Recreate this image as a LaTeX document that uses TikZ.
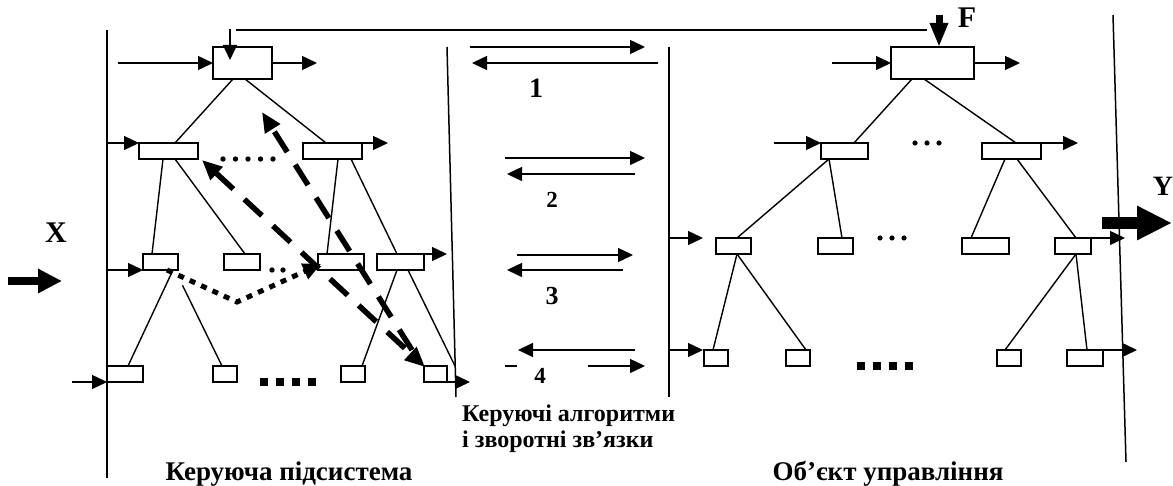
\documentclass[tikz,border=0pt]{standalone}
\usepackage{fontspec}
\setmainfont{Liberation Serif}
\usetikzlibrary{arrows.meta,calc}
\newcommand\mkbox[5]{\node[bx,minimum width={(#4-#2)*1pt},minimum height={(#5-#3)*1pt}] (#1) at ({(#2+#4)/2},{(#3+#5)/2}) {};}
\begin{document}
\begin{tikzpicture}[x=1pt,y=-1pt,
  ln/.style={line width=1.4pt},
  vline/.style={line width=1.5pt},
  bx/.style={draw,line width=1.4pt,inner sep=0pt,outer sep=0pt},
  arr/.style={line width=1.4pt,-{Triangle[length=15pt,width=14pt]}},
  fatarr/.style={line width=8pt,-{Triangle[length=24pt,width=23pt]}},
  yarr/.style={line width=12pt,-{Triangle[length=35pt,width=32pt]}},
  farr/.style={line width=7pt,-{Triangle[length=24pt,width=17pt]}},
  dasharr/.style={line width=5.5pt,dash pattern=on 24pt off 15pt},
  sqdots/.style={line width=5pt,dash pattern=on 6pt off 6.5pt},
  dtip/.style={Triangle[length=20pt,width=17pt]},
  lbl/.style={font=\bfseries\fontsize{#1}{#1}\selectfont,inner sep=0pt}]
\useasboundingbox (0,0) rectangle (1173,486);

% vertical borders
\coordinate (v1t) at (107,30);  \coordinate (v1b) at (107,478);
\coordinate (v2t) at (447,47);  \coordinate (v2b) at (456,397);
\coordinate (v3t) at (669,47);  \coordinate (v3b) at (669,397);
\coordinate (v4t) at (1113,15); \coordinate (v4b) at (1126,462);
\draw[vline] (v1t) -- (v1b);
\draw[vline] (v2t) -- (v2b);
\draw[vline] (v3t) -- (v3b);
\draw[vline] (v4t) -- (v4b);

% left hierarchy boxes
\mkbox{T1}{213}{47}{272}{79}
\mkbox{L2a}{139}{143}{198}{159}
\mkbox{L2b}{303}{143}{362}{159}
\mkbox{L3a}{143}{254}{178}{270}
\mkbox{L3b}{224}{254}{260}{270}
\mkbox{L3c}{318}{254}{364}{270}
\mkbox{L3d}{377}{254}{424}{270}
\mkbox{L4a}{107}{366}{143}{382}
\mkbox{L4b}{213}{366}{237}{382}
\mkbox{L4c}{341}{366}{365}{382}
\mkbox{L4d}{424}{366}{447}{382}

% right hierarchy boxes
\mkbox{R1}{891}{47}{974}{79}
\mkbox{R2a}{821}{143}{868}{159}
\mkbox{R2b}{982}{143}{1041}{159}
\mkbox{R3a}{716}{238}{751}{254}
\mkbox{R3b}{818}{238}{853}{254}
\mkbox{R3c}{962}{238}{1009}{254}
\mkbox{R3d}{1055}{238}{1091}{254}
\mkbox{R4a}{704}{350}{728}{366}
\mkbox{R4b}{786}{350}{810}{366}
\mkbox{R4c}{997}{350}{1021}{366}
\mkbox{R4d}{1067}{350}{1103}{366}

% left tree lines
\draw[ln] ([xshift=20pt]T1.south west) -- ([xshift=36pt]L2a.north west);
\draw[ln] ([xshift=32pt]T1.south west) -- ([xshift=23pt]L2b.north west);
\draw[ln] ([xshift=24pt]L2a.south west) -- ([xshift=9pt]L3a.north west);
\draw[ln] ([xshift=36pt]L2a.south west) -- ([xshift=21pt]L3b.north west);
\draw[ln] ([xshift=35pt]L2b.south west) -- ([xshift=9pt]L3c.north west);
\draw[ln] ([xshift=48pt]L2b.south west) -- ([xshift=20pt]L3d.north west);
\draw[ln] ([xshift=30pt]L3a.south west) -- ([xshift=21pt]L4a.north west);
\draw[ln,shorten <=17pt] ([xshift=32pt]L3a.south west) -- ([xshift=9pt]L4b.north west);
\draw[ln] ([xshift=20pt]L3d.south west) -- ([xshift=21pt]L4c.north west);
\draw[ln] ([xshift=31pt]L3d.south west) -- ([xshift=8pt]L4d.north east);

% right tree lines
\draw[ln] ([xshift=21pt]R1.south west) -- ([xshift=33pt]R2a.north west);
\draw[ln] ([xshift=33pt]R1.south west) -- ([xshift=34pt]R2b.north west);
\draw[ln] ([xshift=8pt]R2a.south west) -- ([xshift=21pt]R3a.north west);
\draw[ln] ([xshift=8pt]R2a.south west) -- ([xshift=24pt]R3b.north west);
\draw[ln] ([xshift=23pt]R2b.south west) -- ([xshift=9pt]R3c.north west);
\draw[ln] ([xshift=35pt]R2b.south west) -- ([xshift=21pt]R3d.north west);
\draw[ln] ([xshift=21pt]R3a.south west) -- ([xshift=9pt]R4a.north west);
\draw[ln] ([xshift=21pt]R3a.south west) -- ([xshift=20pt]R4b.north west);
\draw[ln] ([xshift=21pt]R3d.south west) -- ([xshift=8pt]R4c.north west);
\draw[ln] ([xshift=21pt]R3d.south west) -- ([xshift=20pt]R4d.north west);

% left side arrows
\coordinate (inT1) at (118,63);  \coordinate (outT1) at (317,63);
\coordinate (in2) at (107,143);  \coordinate (out2) at (388,143);
\coordinate (in3) at (107,270);  \coordinate (out3) at (447,254);
\coordinate (in4) at (72,382);   \coordinate (out4) at (470,382);
\draw[arr] (inT1) -- (T1.west);
\draw[arr] (T1.east) -- (outT1);
\draw[arr] (in2) -- (L2a.north west);
\draw[arr] (L2b.north east) -- (out2);
\draw[arr] (in3) -- (L3a.south west);
\draw[arr] (L3d.north east) -- (out3);
\draw[arr] (in4) -- (L4a.south west);
\draw[arr] (L4d.south east) -- (out4);

% feedback line and F
\coordinate (fbL) at (236,30); \coordinate (fbR) at (927,30);
\coordinate (dnA) at (230,29); \coordinate (dnB) at (230,60);
\coordinate (Ft) at (939,15);
\draw[ln] (fbR) -- (fbL);
\draw[arr] (dnA) -- (dnB);
\draw[farr] (Ft) -- ([xshift=6.5pt]R1.north);

% right side arrows
\coordinate (rin1) at (832,63);   \coordinate (rout1) at (1020,63);
\coordinate (rin2) at (774,143);  \coordinate (rout2) at (1078,143);
\coordinate (rin3a) at (669,238); \coordinate (rin3b) at (703,238);
\coordinate (rout3) at (1125,238);
\coordinate (rin4a) at (669,350); \coordinate (rin4b) at (703,350);
\coordinate (rout4) at (1137,350);
\draw[arr] (rin1) -- (R1.west);
\draw[arr] (R1.east) -- (rout1);
\draw[arr] (rin2) -- (R2a.north west);
\draw[arr] (R2b.north east) -- (rout2);
\draw[arr] (rin3a) -- (rin3b);
\draw[arr] (R3d.north east) -- (rout3);
\draw[arr] (rin4a) -- (rin4b);
\draw[arr] (R4d.north east) -- (rout4);

% X and Y
\coordinate (xa) at (8,281);    \coordinate (xb) at (62,281);
\coordinate (ya) at (1102,223); \coordinate (yb) at (1172,223);
\draw[fatarr] (xa) -- (xb);
\draw[yarr] (ya) -- (yb);

% middle arrows
\coordinate (m1a) at (470,47);  \coordinate (m1b) at (645,47);
\coordinate (m1c) at (658,63);  \coordinate (m1d) at (472,63);
\coordinate (m2a) at (505,158); \coordinate (m2b) at (645,158);
\coordinate (m2c) at (635,174); \coordinate (m2d) at (507,174);
\coordinate (m3a) at (517,255); \coordinate (m3b) at (633,255);
\coordinate (m3c) at (623,270); \coordinate (m3d) at (507,270);
\coordinate (m4a) at (635,350); \coordinate (m4b) at (518,350);
\coordinate (m4c) at (505,366); \coordinate (m4d) at (517,366);
\coordinate (m4e) at (588,366); \coordinate (m4f) at (645,366);
\draw[arr] (m1a) -- (m1b);
\draw[arr] (m1c) -- (m1d);
\draw[arr] (m2a) -- (m2b);
\draw[arr] (m2c) -- (m2d);
\draw[arr] (m3a) -- (m3b);
\draw[arr] (m3c) -- (m3d);
\draw[arr] (m4a) -- (m4b);
\draw[ln] (m4c) -- (m4d);
\draw[arr] (m4e) -- (m4f);

% dots and squares
\foreach \x in {223,235.5,248,260.5,273} \fill (\x,159) circle (2.7);
\foreach \x in {272,283} \fill (\x,270) circle (2.7);
\foreach \x in {915,927,939} \fill (\x,143) circle (2.6);
\foreach \x in {880,892,904} \fill (\x,238) circle (2.6);
\foreach \x in {260,276,292,308} \fill (\x,378) rectangle ++(8,8);
\foreach \x in {857,873,889,905} \fill (\x,362) rectangle ++(8,8);

% dotted curved arrow
\coordinate (dv) at (237,302);
\draw[sqdots,-{Triangle[length=18pt,width=16pt]}] ([xshift=-11pt]L3a.south east) -- (dv) -- ([shift={(3,-6)}]L3c.south west);

% dashed arrows
\coordinate (btip) at (262,112);
\draw[dasharr,{Triangle[length=20pt,width=17pt]}-{Triangle[length=20pt,width=17pt]}] ([shift={(4,1)}]L2a.south east) -- ([shift={(1,1)}]L4d.north west);
\draw[dasharr,-{Triangle[length=20pt,width=17pt]}] ([shift={(-12,-16)}]L4d.north west) -- (btip);

% labels
\node[lbl=30] (X) at (56,233) {X};
\node[lbl=30] (F) at (967,18) {F};
\node[lbl=28] (Y) at (1163,186) {Y};
\node[lbl=28] (n1) at (536,88) {1};
\node[lbl=23] (n2) at (552,200) {2};
\node[lbl=26] (n3) at (552,296) {3};
\node[lbl=23] (n4) at (540,376) {4};
\node[lbl=27,anchor=base] (ks) at (289,480) {Керуюча підсистема};
\node[lbl=27,anchor=base] (ou) at (888,480) {Об’єкт управління};
\node[lbl=24,anchor=base west] (ka1) at (462,421) {Керуючі алгоритми};
\node[lbl=24,anchor=base west] (ka2) at (462,447) {і зворотні зв’язки};
\end{tikzpicture}
\end{document}
